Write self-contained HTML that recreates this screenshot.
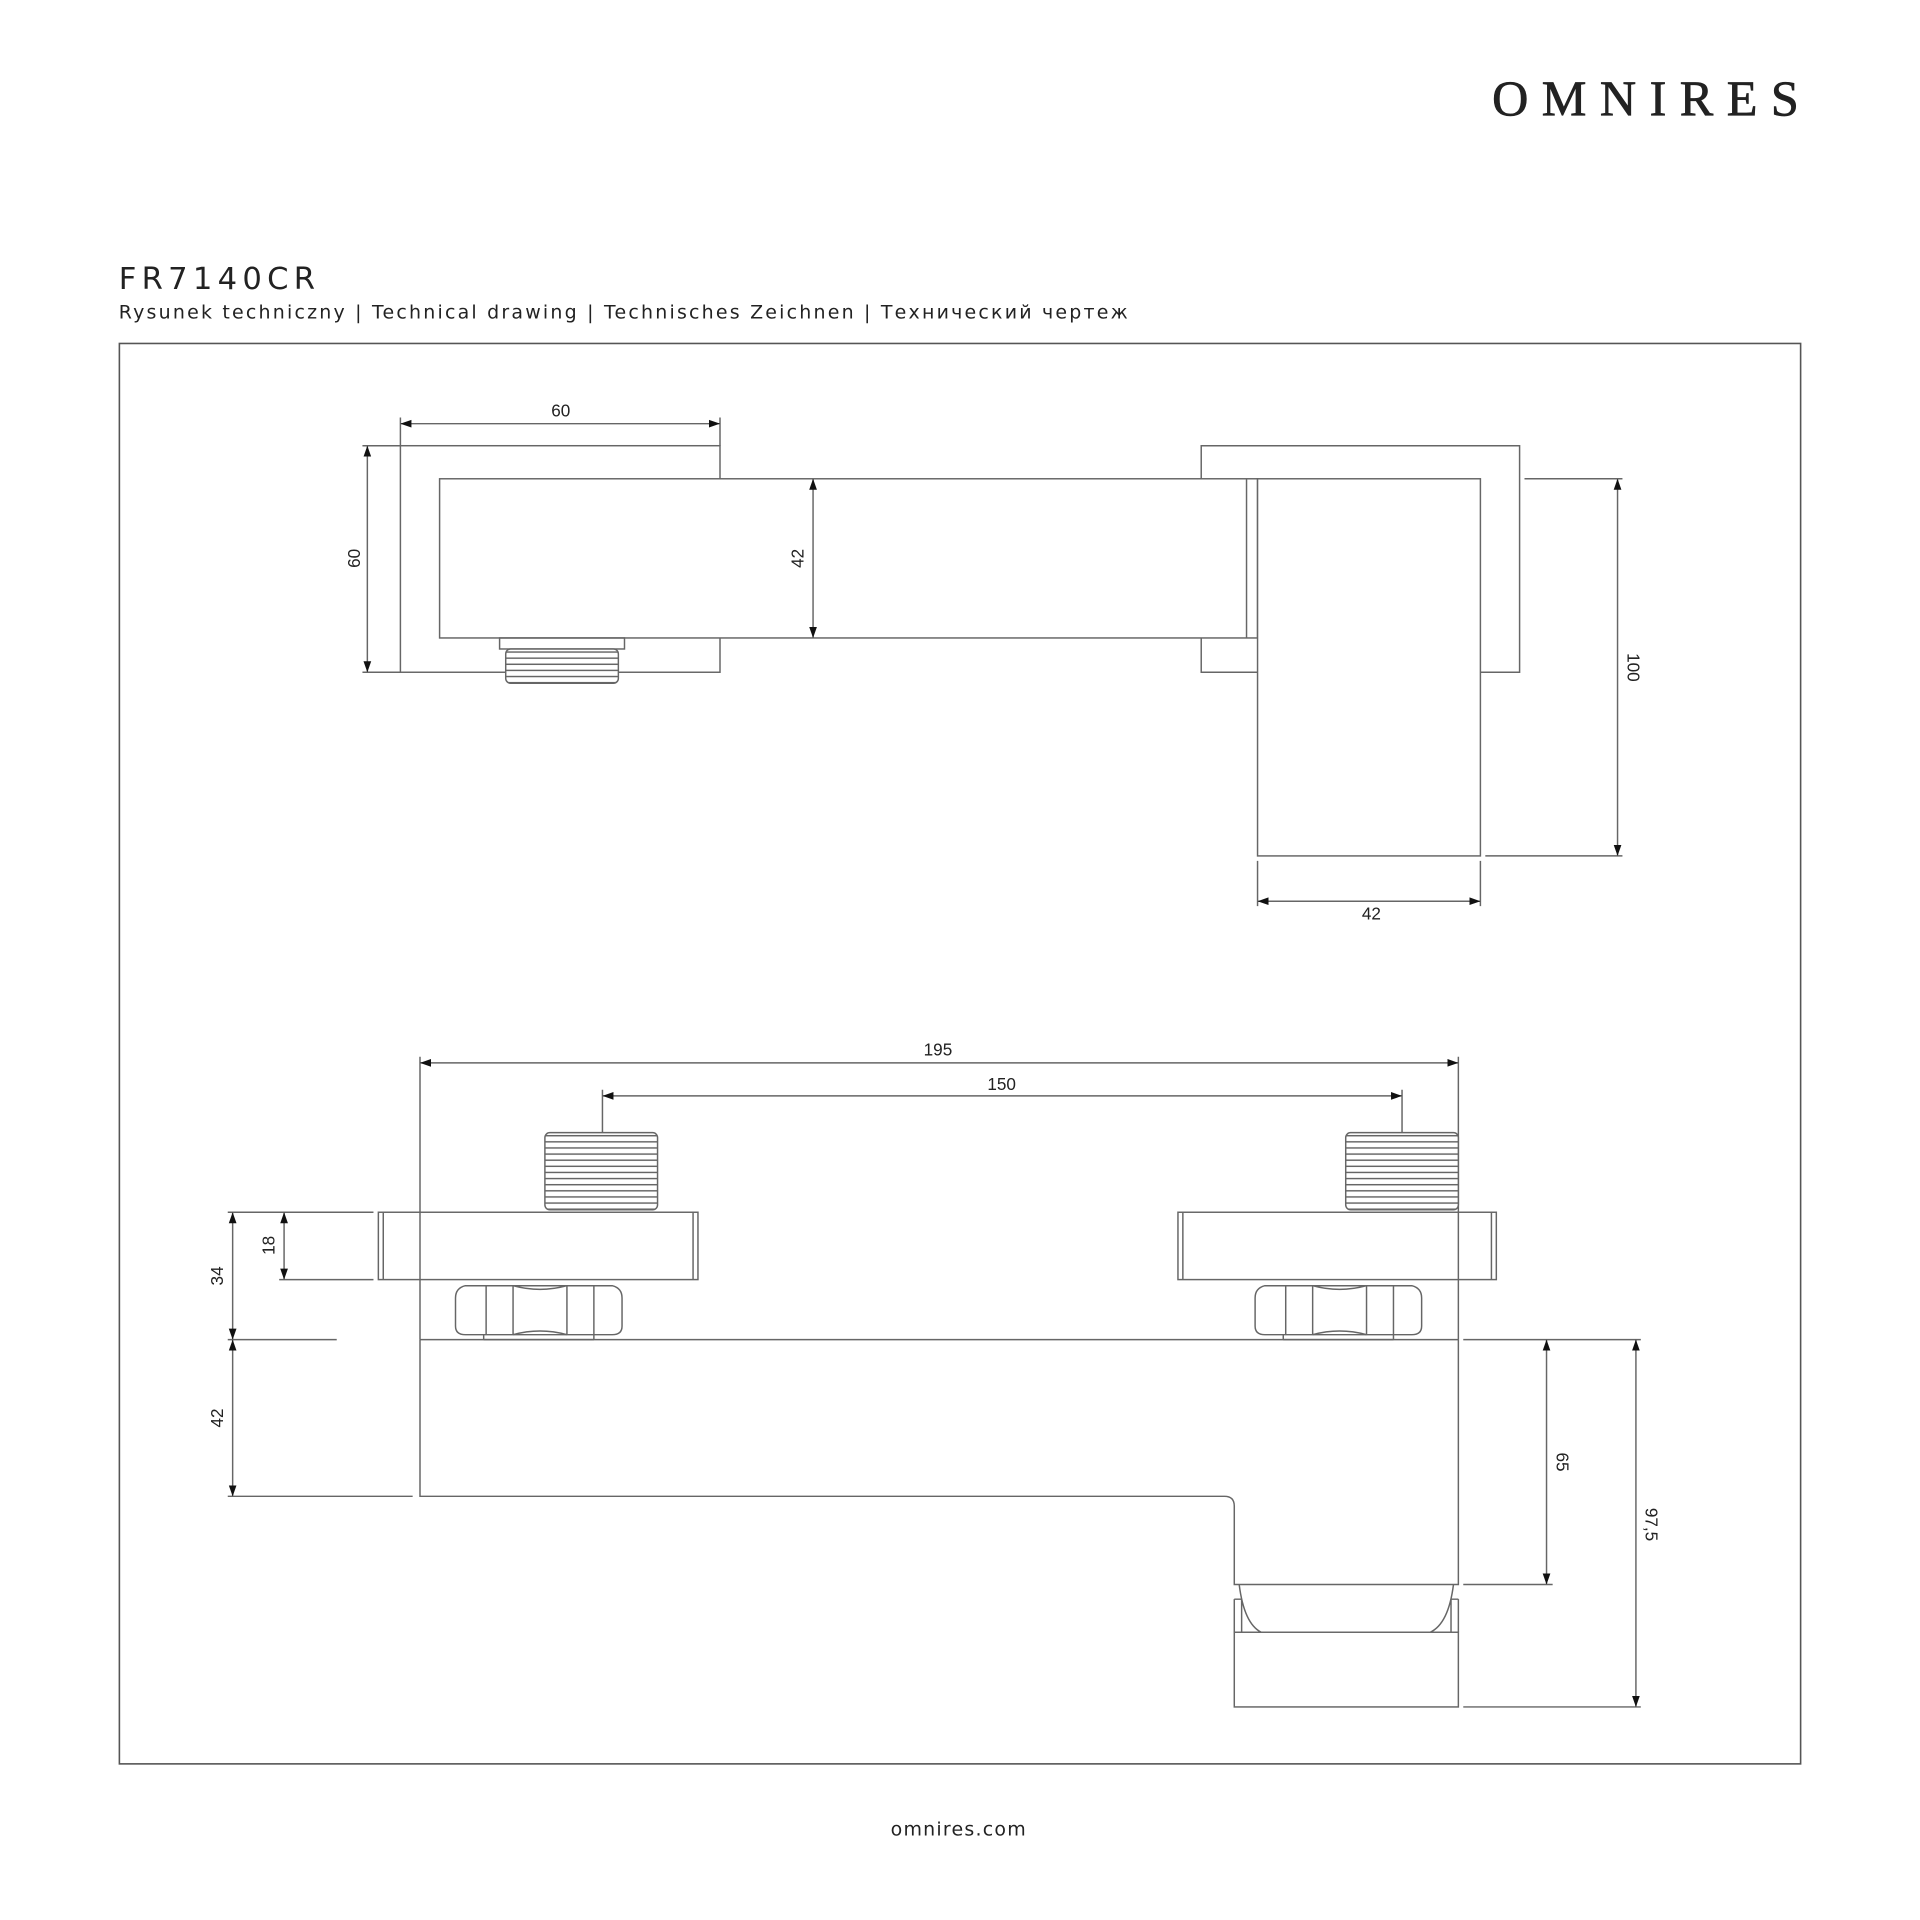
<!DOCTYPE html>
<html><head><meta charset="utf-8"><style>
html,body{margin:0;padding:0;background:#fff;}
svg{display:block;}
text{font-family:"Liberation Sans",sans-serif;fill:#222;}
</style></head><body>
<svg width="1920" height="1920" viewBox="0 0 1568 1568" xmlns="http://www.w3.org/2000/svg">
<defs>
<marker id="a" viewBox="0 0 10 10" refX="10" refY="5" markerWidth="9" markerHeight="9" markerUnits="userSpaceOnUse" orient="auto-start-reverse"><path d="M0,1.5 L10,5 L0,8.5z" fill="#111"/></marker>
<pattern id="thr" width="10" height="5" patternUnits="userSpaceOnUse"><rect width="10" height="5" fill="#fff"/><line x1="0" y1="2.5" x2="10" y2="2.5" stroke="#666" stroke-width="1.2"/></pattern>
</defs>
<text x="1480" y="94" text-anchor="end" style="font-family:'Liberation Serif',serif;font-size:41px;letter-spacing:11px;fill:#222;stroke:#222;stroke-width:0.6">OMNIRES</text>
<text x="97" y="236" style="font-family:'DejaVu Sans',sans-serif;font-size:25px;letter-spacing:4.3px">FR7140CR</text>
<text x="97" y="260" style="font-family:'DejaVu Sans',sans-serif;font-size:15.5px;letter-spacing:1.8px">Rysunek techniczny | Technical drawing | Technisches Zeichnen | Технический чертеж</text>
<rect x="97.5" y="280.5" width="1373" height="1160" fill="none" stroke="#555" stroke-width="1.3"/>
<text x="783" y="1499" text-anchor="middle" style="font-family:'DejaVu Sans',sans-serif;font-size:15.5px;letter-spacing:1px">omnires.com</text>

<g fill="none" stroke="#666" stroke-width="1.2">
<rect x="327" y="364" width="261" height="185"/>
<path d="M981,391 V364 H1241 V549 H1209 M981,521 V549 H1027"/>
<rect x="359" y="391" width="668" height="130" fill="#fff"/>
<line x1="1018" y1="391" x2="1018" y2="521"/>
<rect x="1027" y="391" width="182" height="308" fill="#fff"/>
<rect x="408" y="521" width="102" height="9"/>
<rect x="413" y="530" width="92" height="28" rx="4" fill="url(#thr)"/>
<path d="M327,341 V364 M588,341 V364 M296,364 H327 M296,549 H327 M1245,391 H1325 M1213,699 H1325 M1027,703 V740 M1209,703 V740"/>
<line x1="327" y1="346" x2="588" y2="346" marker-start="url(#a)" marker-end="url(#a)"/>
<line x1="300" y1="364" x2="300" y2="549" marker-start="url(#a)" marker-end="url(#a)"/>
<line x1="664" y1="391" x2="664" y2="521" marker-start="url(#a)" marker-end="url(#a)"/>
<line x1="1321" y1="391" x2="1321" y2="699" marker-start="url(#a)" marker-end="url(#a)"/>
<line x1="1027" y1="736" x2="1209" y2="736" marker-start="url(#a)" marker-end="url(#a)"/>

<path d="M343,863 V1094 M1191,863 V1094 M492,890 V925 M1145,890 V925"/>
<line x1="343" y1="868" x2="1191" y2="868" marker-start="url(#a)" marker-end="url(#a)"/>
<line x1="492" y1="895" x2="1145" y2="895" marker-start="url(#a)" marker-end="url(#a)"/>
<rect x="445" y="925" width="92" height="63" rx="4" fill="url(#thr)"/>
<rect x="1099" y="925" width="92" height="63" rx="4" fill="url(#thr)"/>
<rect x="309" y="990" width="261" height="55"/>
<rect x="962" y="990" width="260" height="55"/>
<path d="M313,990 V1045 M566,990 V1045 M966,990 V1045 M1218,990 V1045"/>
<g id="nut">
<path d="M380,1050 H500 Q508,1052 508,1060 V1083 Q508,1090 500,1090 H380 Q372,1090 372,1083 V1060 Q372,1052 380,1050 Z"/>
<path d="M397,1050 V1090 M419,1050 V1090 M463,1050 V1090 M485,1050 V1090 M419,1050 Q441,1056 463,1050 M419,1090 Q441,1084 463,1090 M395,1090 V1094 M485,1090 V1094 M395,1094 H485"/>
</g>
<use href="#nut" x="653" y="0"/>
<path d="M343,1094 H1191 M343,1094 V1222 H1000 Q1008,1222 1008,1230 V1294 H1191 V1094"/>
<path d="M1012,1294 Q1016,1326 1030,1333 M1187,1294 Q1183,1326 1168,1333 M1008,1306 V1333 M1191,1306 V1333 M1008,1306 H1014 V1333 M1191,1306 H1185 V1333"/>
<rect x="1008" y="1333" width="183" height="61"/>
<path d="M186,990 H305 M228,1045 H305 M186,1094 H275 M186,1222 H337 M1195,1094 H1340 M1195,1294 H1268 M1195,1394 H1340"/>
<line x1="190" y1="990" x2="190" y2="1094" marker-start="url(#a)" marker-end="url(#a)"/>
<line x1="232" y1="990" x2="232" y2="1045" marker-start="url(#a)" marker-end="url(#a)"/>
<line x1="190" y1="1094" x2="190" y2="1222" marker-start="url(#a)" marker-end="url(#a)"/>
<line x1="1263" y1="1094" x2="1263" y2="1294" marker-start="url(#a)" marker-end="url(#a)"/>
<line x1="1336" y1="1094" x2="1336" y2="1394" marker-start="url(#a)" marker-end="url(#a)"/>
</g>

<g style="font-size:14px" text-anchor="middle">
<text x="458" y="340">60</text>
<text x="1120" y="751">42</text>
<text x="766" y="862">195</text>
<text x="818" y="890">150</text>
<text transform="translate(294,456) rotate(-90)">60</text>
<text transform="translate(656,456) rotate(-90)">42</text>
<text transform="translate(1329,545) rotate(90)">100</text>
<text transform="translate(182,1042) rotate(-90)">34</text>
<text transform="translate(224,1017) rotate(-90)">18</text>
<text transform="translate(182,1158) rotate(-90)">42</text>
<text transform="translate(1271,1194) rotate(90)">65</text>
<text transform="translate(1344,1245) rotate(90)">97,5</text>
</g>
</svg>
</body></html>
